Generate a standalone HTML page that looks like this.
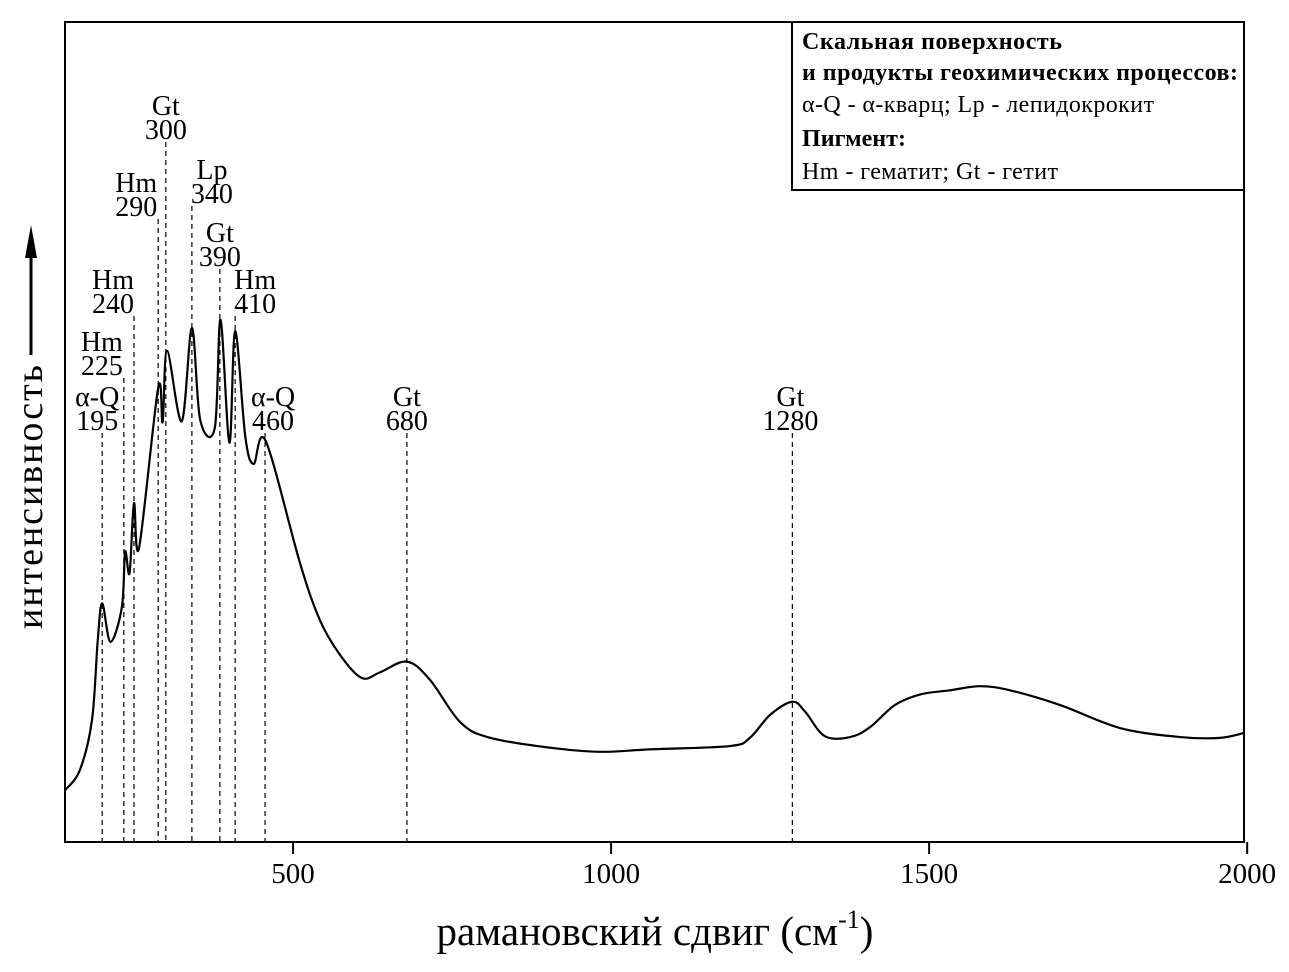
<!DOCTYPE html>
<html><head><meta charset="utf-8"><style>
html,body{margin:0;padding:0;background:#fff}
svg{display:block;font-family:"Liberation Serif",serif}
</style></head><body>
<svg width="1289" height="972" viewBox="0 0 1289 972">
<rect x="65" y="22" width="1179" height="820" fill="none" stroke="#000" stroke-width="2"/>
<g id="ticks"></g>
<g id="peaks"></g>
<path id="spectrum" fill="none" stroke="#000" stroke-width="2.2"/>
<g>
<rect x="792" y="22" width="452" height="168" fill="#fff" stroke="#000" stroke-width="2"/>
<text x="802" y="49" font-size="24" font-weight="bold" textLength="260">Скальная поверхность</text>
<text x="802" y="80" font-size="24" font-weight="bold" textLength="436">и продукты геохимических процессов:</text>
<text x="802" y="112" font-size="24" textLength="352">α-Q - α-кварц; Lp - лепидокрокит</text>
<text x="802" y="146" font-size="24" font-weight="bold" textLength="104">Пигмент:</text>
<text x="802" y="179" font-size="24" textLength="256">Hm - гематит; Gt - гетит</text>
</g>
<g>
<text transform="translate(42,497) rotate(-90)" text-anchor="middle" font-size="38" textLength="264">интенсивность</text>
<line x1="31" y1="355" x2="31" y2="250" stroke="#000" stroke-width="3"/>
<polygon points="31,225 25,258 37,258" fill="#000"/>
</g>
<text x="655" y="945" text-anchor="middle" font-size="41">рамановский сдвиг (см<tspan font-size="26" dy="-17">-1</tspan><tspan dy="17">)</tspan></text>
</svg>
<script>
const specX=[141.5,165,184,193,200,213,231,236,243,250,258,288,295,302,325,341,354,377,386,400,409,425,438,457,511,542,574,608,637,679,715,763,810,904,983,1061,1187,1218,1250,1285,1305,1336,1376,1407,1446,1486,1533,1580,1627,1706,1800,1895,1957,1995];
const specY=[6.3,8.8,14.9,24.6,29.1,24.4,28.7,35.4,32.8,41.3,35.9,55.4,51.2,59.9,51.3,62.7,51.5,50.5,63.7,48.7,62.3,49.4,46.1,48.9,34,27.1,22.8,20,20.7,22,19.8,14.6,12.7,11.5,11,11.3,11.7,12.7,15.5,17.1,15.9,12.9,12.8,14,16.7,18,18.5,19,18.5,16.7,13.9,12.8,12.7,13.3];
const tickVals=[500,1000,1500,2000];
const tickLabels=["500","1000","1500","2000"];
const peakPos=[200,234,250,288,300,341,385,409,456,679,1285];
const peakNames=["α-Q","Hm","Hm","Hm","Gt","Lp","Gt","Hm","α-Q","Gt","Gt"];
const peakLabels=["195","225","240","290","300","340","390","410","460","680","1280"];
const peakLabelTop=[397,342,280,183,106,170,233,280,397,397,397];
const peakLabelDx=[-5,-22,-21,-22,0,20,0,20,8,0,-2];

const X0=65,X1=1244,Y0=842,Y1=22,xMin=141.5,xMax=1995,yMin=0,yMax=100;
const sx=v=>X0+(v-xMin)/(xMax-xMin)*(X1-X0);
const sy=v=>Y0-(v-yMin)/(yMax-yMin)*(Y0-Y1);
const NS="http://www.w3.org/2000/svg";
function mk(tag,attrs,parent){const e=document.createElementNS(NS,tag);for(const k in attrs)e.setAttribute(k,attrs[k]);parent.appendChild(e);return e;}

const pts=specX.map((x,i)=>[sx(x),sy(specY[i])]);
let d="M"+pts[0][0]+","+pts[0][1];
for(let i=0;i<pts.length-1;i++){
 const p0=pts[Math.max(0,i-1)],p1=pts[i],p2=pts[i+1],p3=pts[Math.min(pts.length-1,i+2)];
 const t=0.5/3;
 d+=" C"+(p1[0]+(p2[0]-p0[0])*t)+","+(p1[1]+(p2[1]-p0[1])*t)+" "+(p2[0]-(p3[0]-p1[0])*t)+","+(p2[1]-(p3[1]-p1[1])*t)+" "+p2[0]+","+p2[1];
}
document.getElementById('spectrum').setAttribute('d',d);

const tg=document.getElementById('ticks');
tickVals.forEach((v,i)=>{
 const l=mk('line',{x1:sx(v),x2:sx(v),y1:Y0,y2:Y0+12,stroke:'#000','stroke-width':2},tg);
 
 
 const t=mk('text',{x:sx(v),y:Y0+41,'text-anchor':'middle','font-size':29},tg);
 t.textContent=tickLabels[i];
 
 
});

const pg=document.getElementById('peaks');
peakPos.forEach((v,i)=>{
 const x=sx(v),top=peakLabelTop[i];
 const l=mk('line',{x1:x,x2:x,y1:top+36,y2:Y0,stroke:'#000','stroke-width':1.2,'stroke-dasharray':'5,4'},pg);
 
 
 const t1=mk('text',{x:x+peakLabelDx[i],y:top+9,'text-anchor':'middle','font-size':28},pg);
 t1.textContent=peakNames[i];
 
 
 const t2=mk('text',{x:x+peakLabelDx[i],y:top+33,'text-anchor':'middle','font-size':28},pg);
 t2.textContent=peakLabels[i];
 
 
});
</script>
</body></html>
